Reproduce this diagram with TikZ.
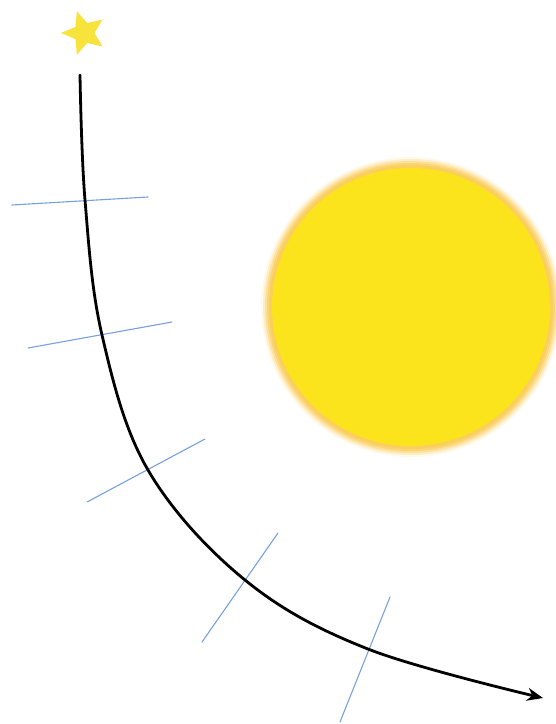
\documentclass[tikz,border=0pt]{standalone}
\usetikzlibrary{shapes.geometric,arrows.meta}
\definecolor{sunyellow}{RGB}{252,228,28}
\definecolor{sunrim}{RGB}{250,205,90}
\definecolor{starfill}{RGB}{248,226,60}
\definecolor{tickblue}{RGB}{120,160,225}
\begin{document}
\begin{tikzpicture}[x=1pt, y=-1pt, line join=round, line cap=round, >=stealth]
			\useasboundingbox (0,0) rectangle (556,724);
			\clip (0,0) rectangle (556,724);
			% Toa do cac diem tren quy dao
			\coordinate (S) at (80,75);
			\coordinate (P1) at (85,200);
			\coordinate (P2) at (102,335);
			\coordinate (P3) at (148,470);
			\coordinate (P4) at (245,580);
			\coordinate (P5) at (368,649);
			\coordinate (E) at (543,698);
			\coordinate (O) at (411,307);
			
			% Mat troi (vien mo)
			\foreach \r/\op in {150/0.12, 148/0.25, 146/0.4, 144/0.6, 142/0.8} {
				\fill[sunrim, opacity=\op] (O) circle (\r);
			}
			\fill[sunyellow] (O) circle (139);
			
			% Ngoi sao
			\node[star, star points=5, star point ratio=2.2, fill=starfill, inner sep=0pt, minimum size=46pt, rotate=18] (star) at (84,33) {};
			
			% Cac vach cat quy dao
			\foreach \a/\b in {{(12,205)}/{(148,197)}, {(28,348)}/{(172,322)}, {(87,502)}/{(205,439)}, {(202,642)}/{(278,533)}, {(340,722)}/{(390,597)}} {
				\draw[tickblue, line width=1.1pt] \a -- \b;
			}
			
			% Quy dao
			\draw[line width=2.8pt, -{Stealth[length=16pt, width=13pt]}] plot[smooth, tension=0.6] coordinates {(S) (P1) (P2) (P3) (P4) (P5) (E)};
		\end{tikzpicture}
\end{document}
